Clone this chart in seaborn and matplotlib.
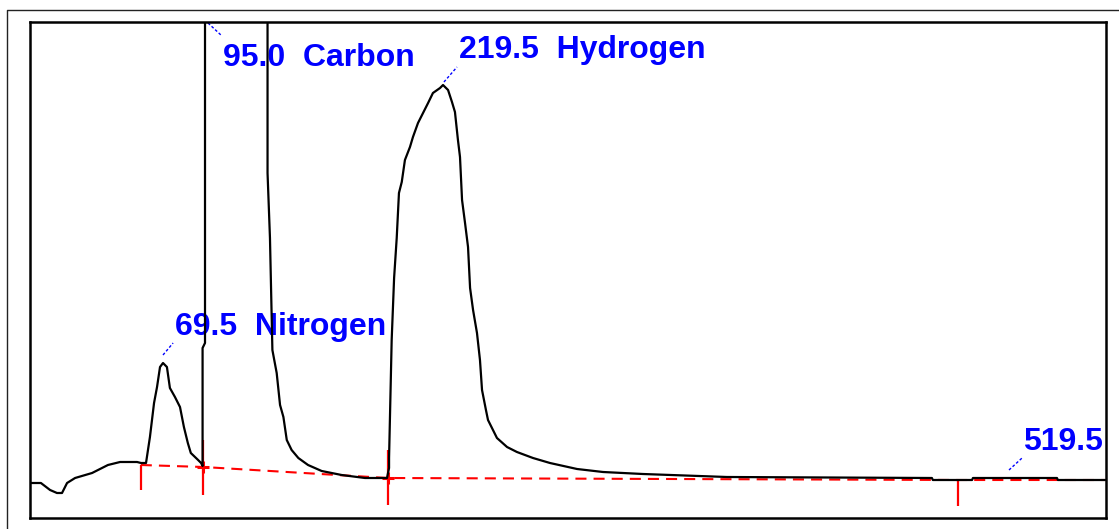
import numpy as np
import pandas as pd
import matplotlib
matplotlib.use('Agg')
import matplotlib.pyplot as plt
from matplotlib.lines import Line2D
import seaborn as sns

# retention time (s) and detector signal (arbitrary units)
time_s = [-1.8, 4.1, 9.0, 12.7, 15.4, 18.1, 22.4, 31.5, 40.0, 46.5, 55.6, 57.7,
          60.4, 62.5, 64.7, 66.3, 67.9, 69.5, 71.6, 73.2, 75.9, 78.6, 80.7, 82.8,
          84.4, 88.3, 89.9, 90.7, 90.7, 92.0, 92.0, 108.6, 125.5,
          125.5, 126.8, 128.1, 130.4, 132.2, 134.0, 135.8, 138.4, 142.0, 147.2,
          154.5, 165.2, 177.7, 189.5, 190.6, 190.6, 192.0, 193.3, 194.7, 195.9,
          197.4, 199.1, 201.8, 203.4, 206.1, 208.8, 211.5, 214.1, 217.9, 219.5,
          222.2, 224.3, 225.9, 227.5, 228.6, 229.7, 231.3, 232.9, 234.0, 235.6,
          237.7, 239.3, 240.4, 242.5, 243.6, 248.4, 253.8, 259.1, 267.7, 276.8,
          291.3, 305.2, 326.6, 371.6, 481.4, 481.9, 502.9, 503.4, 548.4, 548.9,
          574.4]
signal = [36, 36, 29, 26, 26, 36, 41, 46, 54, 57, 57, 56,
          56, 82, 116, 132, 152, 156, 152, 131, 122, 112, 92, 76,
          66, 59, 56, 53, 171, 176, 700, 900, 700,
          346, 281, 169, 146, 114, 102, 79, 69, 61, 54,
          48, 44, 41, 41, 51, 61, 179, 241, 281, 326,
          337, 359, 372, 382, 396, 406, 416, 426, 431, 434,
          429, 417, 407, 379, 362, 319, 296, 272, 231, 209,
          186, 159, 129, 109, 99, 81, 72, 67, 61, 56,
          50, 47, 45, 42, 41, 39, 39, 41, 41, 39,
          39]

# integration baseline and peak start/end marks
base_t = [57.6, 91.1, 189.8, 495.4, 574.4]
base_v = [54, 52, 41, 39, 39]
mark_t = [57.6, 91.1, 189.8, 495.4]
mark_lo = [29, 24, 14, 13]
mark_hi = [54, 79, 69, 39]

# peak labels
labels = ['69.5  Nitrogen', '95.0  Carbon', '219.5  Hydrogen', '519.5']
label_t = [75.9, 101.6, 228.1, 530.2]
label_v = [184, 453, 461, 69]
leader_t0 = [69.5, 93.6, 220.0, 522.7]
leader_v0 = [164, 496, 437, 49]
leader_t1 = [74.9, 101.1, 227.0, 529.7]
leader_v1 = [176, 483, 452, 61]

df = pd.DataFrame({'time': time_s, 'signal': signal})

sns.set_style('white')
fig = plt.figure(figsize=(11.19, 5.29), dpi=100)
ax = fig.add_axes([0.02681, 0.01985, 0.96113, 0.93762])

for i, lab in enumerate(labels):
    ax.text(label_t[i], label_v[i], lab, color='#0000FF', fontsize=23,
            fontweight='bold', family=['Liberation Sans', 'DejaVu Sans'],
            ha='left', va='baseline', zorder=1)
    ax.plot([leader_t0[i], leader_t1[i]], [leader_v0[i], leader_v1[i]],
            color='#0000FF', lw=1.0, linestyle=(0, (2, 1.5)), zorder=1)

ax.plot(base_t, base_v, color='#FF0000', lw=1.5, linestyle=(0, (5.3, 3.4)), zorder=2)
ax.vlines(mark_t, mark_lo, mark_hi, color='#FF0000', lw=1.6, zorder=2)
ax.plot(mark_t[1:3], base_v[1:3], '+', color='#FF0000', ms=9, mew=2.2, zorder=2)

sns.lineplot(data=df, x='time', y='signal', sort=False, estimator=None,
             color='black', lw=1.6, ax=ax, zorder=3)

ax.set_xlim(-1.75, 574.4)
ax.set_ylim(0.5, 496.5)
ax.set_xticks([])
ax.set_yticks([])
ax.set_xlabel('')
ax.set_ylabel('')
for s in ax.spines.values():
    s.set_linewidth(1.8)
    s.set_color('black')

# outer window frame
fig.add_artist(Line2D([7 / 1119, 7 / 1119, 1.0], [0.0, 1 - 9.5 / 529, 1 - 9.5 / 529],
                      transform=fig.transFigure, color='#222222', lw=1.0))

fig.savefig('out.png', dpi=100)
